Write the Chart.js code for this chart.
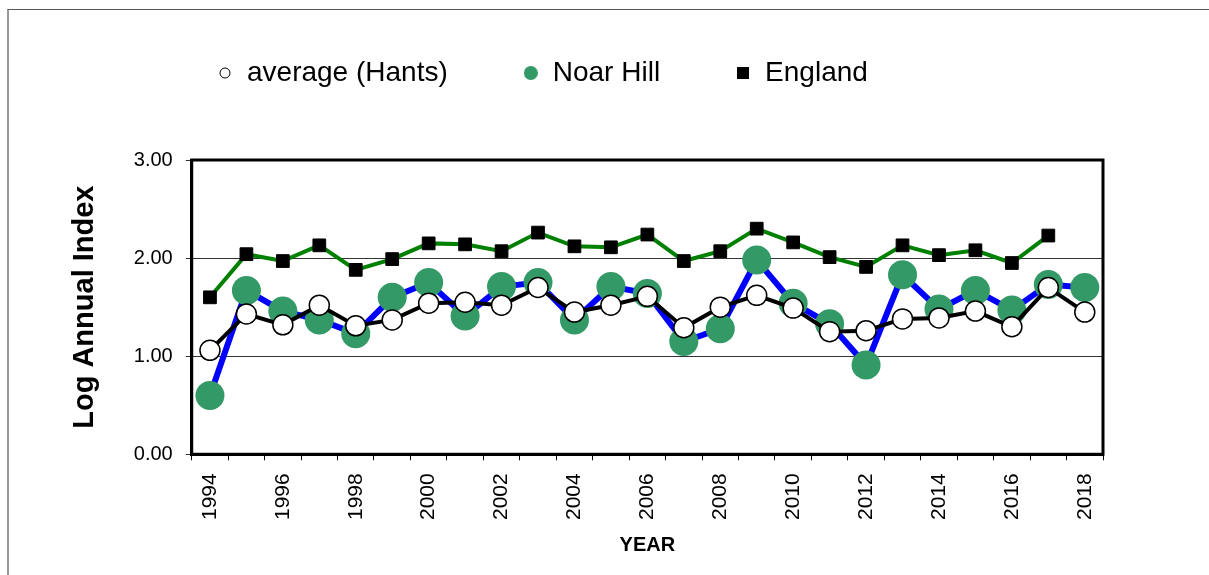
<!DOCTYPE html>
<html lang="en">
<head>
<meta charset="UTF-8">
<title>Log Annual Index</title>
<script src="https://cdn.jsdelivr.net/npm/chart.js"></script>
<style>
  * { margin: 0; padding: 0; box-sizing: border-box; }
  body { width: 1209px; height: 575px; overflow: hidden; background: #fff; position: relative; }
  .frame { position: absolute; left: 7px; top: 9px; width: 1300px; height: 700px; border-top: 1px solid #555; border-left: 2px solid #999; }
  #chart { position: absolute; left: 0; top: 0; }
</style>
</head>
<body>
<div class="frame"></div>
<canvas id="chart" width="1209" height="575"></canvas>
<script>
// values
const years = ['1994','1995','1996','1997','1998','1999','2000','2001','2002','2003','2004','2005','2006',
               '2007','2008','2009','2010','2011','2012','2013','2014','2015','2016','2017','2018'];
const averageHants = [1.06,1.43,1.32,1.52,1.31,1.37,1.54,1.55,1.52,1.70,1.45,1.52,1.61,
                      1.29,1.50,1.62,1.49,1.25,1.26,1.38,1.39,1.46,1.30,1.70,1.45];
const noarHill = [0.60,1.67,1.46,1.37,1.23,1.60,1.75,1.41,1.71,1.75,1.37,1.71,1.64,
                  1.15,1.28,1.98,1.54,1.33,0.91,1.83,1.48,1.67,1.47,1.73,1.70];
const england = [1.60,2.04,1.97,2.13,1.88,1.99,2.15,2.14,2.07,2.26,2.12,2.11,2.24,
                 1.97,2.07,2.30,2.16,2.01,1.91,2.13,2.03,2.08,1.95,2.23,null];
const yTicks = [0, 1, 2, 3];

Chart.defaults.font.family = '"Liberation Sans", Arial, sans-serif';
Chart.defaults.color = '#000';

// small marker icons for the legend
function icon(size, draw) {
  const c = document.createElement('canvas');
  c.width = size; c.height = size;
  draw(c.getContext('2d'), size);
  return c;
}
const legendIcons = [
  icon(12, (g, s) => { g.beginPath(); g.arc(s/2, s/2, s/2 - 1, 0, Math.PI*2); g.fillStyle = '#fff'; g.fill(); g.lineWidth = 1; g.strokeStyle = '#000'; g.stroke(); }),
  icon(14, (g, s) => { g.beginPath(); g.arc(s/2, s/2, s/2, 0, Math.PI*2); g.fillStyle = '#339966'; g.fill(); }),
  icon(12, (g, s) => { g.fillStyle = '#000'; g.fillRect(0, 0, s, s); })
];

const plotFrame = {
  id: 'plotFrame',
  beforeDatasetsDraw(chart) {
    const a = chart.chartArea, ctx = chart.ctx;
    ctx.save();
    ctx.lineWidth = 3;
    ctx.strokeStyle = '#000';
    ctx.strokeRect(a.left, a.top, a.right - a.left, a.bottom - a.top);
    ctx.restore();
  }
};

// put the legend row where it sits in the picture
const legendPlace = {
  id: 'legendPlace',
  afterLayout(chart) {
    const lg = chart.legend;
    const w = lg.width, h = lg.height;
    lg.left = 142; lg.right = 142 + w;
    lg.top = -16; lg.bottom = -16 + h;
  }
};

new Chart(document.getElementById('chart'), {
  type: 'line',
  data: {
    labels: years,
    datasets: [
      {
        label: 'average (Hants)',
        data: averageHants,
        borderColor: '#000',
        borderWidth: 4,
        pointRadius: 10,
        pointBackgroundColor: '#fff',
        pointBorderColor: '#000',
        pointBorderWidth: 1.5
      },
      {
        label: 'Noar Hill',
        data: noarHill,
        borderColor: '#0000ff',
        borderWidth: 6,
        pointRadius: 14.5,
        pointBackgroundColor: '#339966',
        pointBorderColor: '#339966',
        pointBorderWidth: 0
      },
      {
        label: 'England',
        data: england,
        borderColor: '#008000',
        borderWidth: 4,
        pointStyle: 'rect',
        pointRadius: 9,
        pointBackgroundColor: '#000',
        pointBorderColor: '#000',
        pointBorderWidth: 1
      }
    ]
  },
  options: {
    responsive: false,
    animation: false,
    layout: { padding: { left: 60, right: 106, top: 47, bottom: 14 } },
    plugins: {
      tooltip: { enabled: false },
      legend: {
        position: 'top',
        align: 'start',
        labels: {
          usePointStyle: true,
          boxWidth: 16,
          boxHeight: 16,
          padding: 75,
          font: { size: 28 },
          color: '#000',
          generateLabels(chart) {
            const items = Chart.defaults.plugins.legend.labels.generateLabels(chart);
            items.forEach((it, i) => { it.pointStyle = legendIcons[i]; });
            return items;
          }
        }
      }
    },
    scales: {
      x: {
        offset: true,
        grid: { offset: true, drawOnChartArea: false, drawTicks: true, tickLength: 6, color: '#000', lineWidth: 1 },
        border: { display: true, color: '#000', width: 3 },
        ticks: {
          autoSkip: false,
          minRotation: 90,
          maxRotation: 90,
          padding: 13,
          font: { size: 21 },
          color: '#000',
          callback(value, index) { return index % 2 === 0 ? this.getLabelForValue(value) : ''; }
        },
        title: { display: true, text: 'YEAR', font: { size: 20, weight: 'bold' }, color: '#000', padding: { top: 0, bottom: 4 } }
      },
      y: {
        min: 0,
        max: 3,
        afterBuildTicks(scale) { scale.ticks = yTicks.map(v => ({ value: v })); },
        grid: { color: '#333', lineWidth: 1, tickLength: 6, drawTicks: true },
        border: { display: true, color: '#000', width: 3 },
        ticks: {
          padding: 13,
          font: { size: 20 },
          color: '#000',
          callback(v) { return Number(v).toFixed(2); }
        },
        title: { display: true, text: 'Log Annual Index', font: { size: 29, weight: 'bold' }, color: '#000', padding: { top: 8, bottom: 18 } }
      }
    }
  },
  plugins: [plotFrame, legendPlace]
});
</script>
</body>
</html>
